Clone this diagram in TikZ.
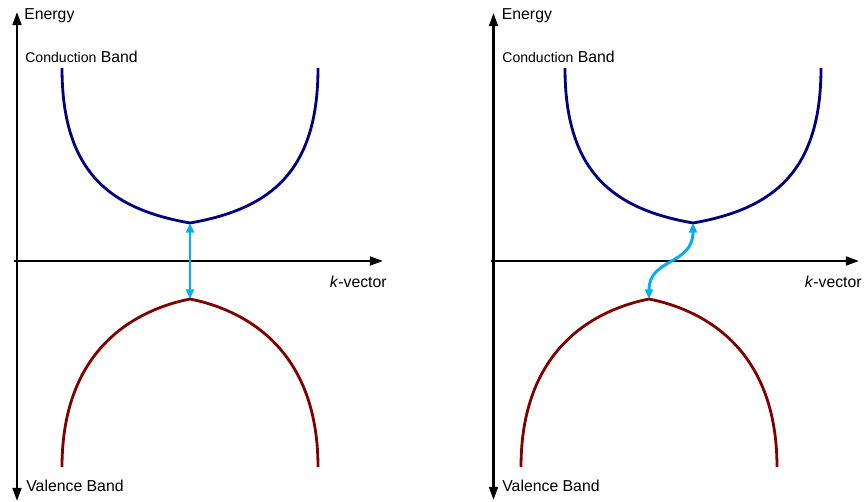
\documentclass[tikz,border=0pt]{standalone}
\usepackage{fontspec}
\setmainfont{Liberation Sans}
\usetikzlibrary{arrows.meta}
\definecolor{cband}{RGB}{0,0,128}
\definecolor{vband}{RGB}{128,0,0}
\definecolor{trans}{RGB}{0,176,240}

\begin{document}
\begin{tikzpicture}[x=0.02cm, y=-0.02cm,
    axis/.style={line width=1.4pt, >={Triangle[length=7.5pt,width=5pt]}},
    band/.style={line width=1.6pt},
    jump/.style={line width=1.7pt, trans, {Triangle[length=5.5pt,width=4.5pt]}-{Triangle[length=5.5pt,width=4.5pt]}},
    lbl/.style={inner sep=0pt, font=\fontsize{9}{10}\selectfont}
]
\useasboundingbox (0,0) rectangle (865,502);

% left: direct gap
\coordinate (eTopL) at (17,12);
\coordinate (eBotL) at (17,501);
\coordinate (kStartL) at (14,261);
\coordinate (kEndL) at (383,261);
\coordinate (cbL) at (190,223);
\coordinate (vbL) at (190,299);

\draw[axis,<->] (eBotL) -- (eTopL);
\draw[axis,->] (kStartL) -- (kEndL);

\draw[band, cband] (62,68) .. controls (62,172) and (110,209) .. (cbL)
    .. controls (270,209) and (318,172) .. (318,68);
\draw[band, vband] (62,467) .. controls (62,345) and (140,309) .. (vbL)
    .. controls (240,309) and (318,345) .. (318,467);

\draw[jump] (cbL) -- (vbL);

\node[lbl, anchor=base west] (enL) at (24,19.5) {Energy};
\node[lbl, anchor=base west] (cbtL) at (25,63) {{\fontsize{8}{9}\selectfont Conduction} Band};
\node[lbl, anchor=base west] (vbtL) at (26,492) {Valence Band};
\node[lbl, anchor=base east] (kL) at (387,288) {\textit{k}-vector};

% right: indirect gap
\coordinate (eTopR) at (493.5,13);
\coordinate (eBotR) at (493.5,500);
\coordinate (kStartR) at (491,261);
\coordinate (kEndR) at (859,261);
\coordinate (cbR) at (693,223);
\coordinate (vbR) at (649,299);

\draw[axis,<->] (eBotR) -- (eTopR);
\draw[axis,->] (kStartR) -- (kEndR);

\draw[band, cband] (565,68) .. controls (565,172) and (613,209) .. (cbR)
    .. controls (773,209) and (821,172) .. (821,68);
\draw[band, vband] (521,467) .. controls (521,345) and (599,309) .. (vbR)
    .. controls (699,309) and (777,345) .. (777,467);

\draw[jump] (cbR) .. controls (693,265) and (649,258) .. (vbR);

\node[lbl, anchor=base west] (enR) at (501.5,19.5) {Energy};
\node[lbl, anchor=base west] (cbtR) at (502,63) {{\fontsize{8}{9}\selectfont Conduction} Band};
\node[lbl, anchor=base west] (vbtR) at (502,492) {Valence Band};
\node[lbl, anchor=base east] (kR) at (862,288) {\textit{k}-vector};
\end{tikzpicture}
\end{document}
